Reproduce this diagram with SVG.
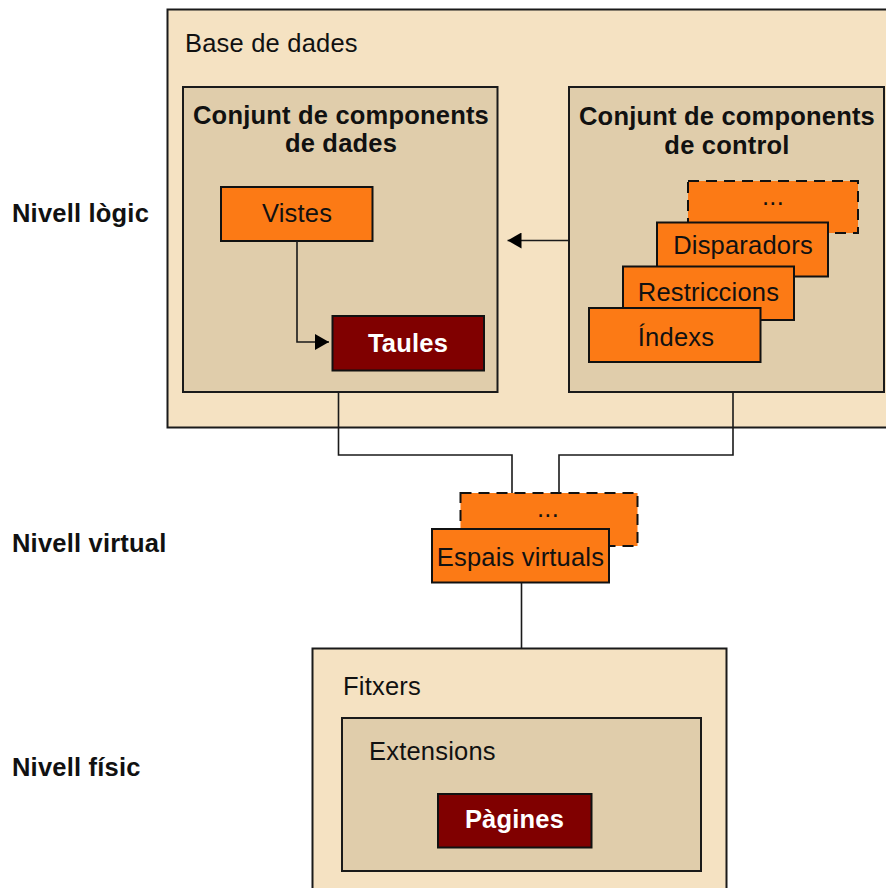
<svg xmlns="http://www.w3.org/2000/svg" width="886" height="888" viewBox="0 0 886 888">
<defs>
<style>
.outer{fill:#F5E2C2;stroke:#1a1a1a;stroke-width:2}
.inner{fill:#E0CDAB;stroke:#1a1a1a;stroke-width:2}
.orange{fill:#FC7A15;stroke:#111;stroke-width:2}
.dash{fill:#FC7A15;stroke:#111;stroke-width:2;stroke-dasharray:11,7}
.dark{fill:#800000;stroke:#111;stroke-width:2}
.conn{fill:none;stroke:#1a1a1a;stroke-width:1.6}
text{font-family:"Liberation Sans",Arial,Helvetica,sans-serif;font-size:25.5px;letter-spacing:0.2px;fill:#111}
.b{font-weight:bold}
.w{fill:#fff;font-weight:bold}
.c{text-anchor:middle}
</style>
<marker id="arr" viewBox="0 0 14 16" refX="14" refY="8" markerWidth="14" markerHeight="16" markerUnits="userSpaceOnUse" orient="auto">
<path d="M0,0 L14,8 L0,16 Z" fill="#000"/>
</marker>
</defs>

<g id="labels">
<text x="12" y="222" class="b">Nivell lògic</text>
<text x="12" y="552" class="b">Nivell virtual</text>
<text x="12" y="776" class="b">Nivell físic</text>
</g>

<g id="base-de-dades">
<rect class="outer" x="167.5" y="9.5" width="740" height="418"/>
<text x="185" y="52">Base de dades</text>
</g>

<g id="components-dades">
<rect class="inner" x="183" y="87" width="314.5" height="305"/>
<text x="341" y="124" class="b c">Conjunt de components</text>
<text x="341" y="152" class="b c">de dades</text>
</g>

<g id="vistes">
<rect class="orange" x="221" y="187" width="151.5" height="54"/>
<text x="297" y="222" class="c">Vistes</text>
</g>

<g id="taules">
<rect class="dark" x="332.5" y="316" width="151.5" height="54.5"/>
<text x="408" y="352" class="w c">Taules</text>
</g>

<g id="components-control">
<rect class="inner" x="569" y="87" width="315" height="305"/>
<text x="727" y="125" class="b c">Conjunt de components</text>
<text x="727" y="154" class="b c">de control</text>
</g>

<g id="control-mes">
<rect class="dash" x="688" y="181" width="170" height="52"/>
<text x="773" y="205" class="c">...</text>
</g>

<g id="disparadors">
<rect class="orange" x="657" y="222.5" width="171" height="54"/>
<text x="743" y="254" class="c">Disparadors</text>
</g>

<g id="restriccions">
<rect class="orange" x="623" y="266.5" width="171" height="53.5"/>
<text x="708.5" y="300.5" class="c">Restriccions</text>
</g>

<g id="index">
<rect class="orange" x="589" y="308" width="171.5" height="54"/>
<text x="676" y="346" class="c">Índexs</text>
</g>

<g id="virtual-mes">
<rect class="dash" x="460.5" y="493" width="177" height="53"/>
<text x="548" y="517" class="c">...</text>
</g>

<g id="espais-virtuals">
<rect class="orange" x="432" y="529" width="177" height="53.5"/>
<text x="520.5" y="566" class="c">Espais virtuals</text>
</g>

<g id="fitxers">
<rect class="outer" x="312.5" y="648.5" width="414" height="260"/>
<text x="343" y="695">Fitxers</text>
</g>

<g id="extensions">
<rect class="inner" x="342" y="718" width="359" height="153"/>
<text x="369" y="760">Extensions</text>
</g>

<g id="pagines">
<rect class="dark" x="438" y="794" width="153.5" height="53.5"/>
<text x="514.5" y="828" class="w c">Pàgines</text>
</g>

<g id="connectors">
<path class="conn" d="M297,241 V342 H329" marker-end="url(#arr)"/>
<path class="conn" d="M569,240.5 H507.5" marker-end="url(#arr)"/>
<path class="conn" d="M338.5,392 V455 H512 V493"/>
<path class="conn" d="M733,392 V455 H559 V493"/>
<path class="conn" d="M521.5,582.5 V648.5"/>
</g>
</svg>
